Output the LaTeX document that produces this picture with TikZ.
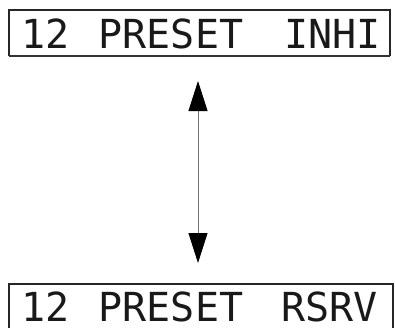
\documentclass[tikz,border=0pt]{standalone}
\usepackage{fontspec}
\newfontfamily\lcd{DejaVu Sans Mono}
\usetikzlibrary{arrows.meta}
\tikzset{
  lcdtext/.style={anchor=base west, inner sep=0pt, text depth=0pt, font=\lcd\fontsize{40}{40}\selectfont, text=black!90},
  frame/.style={draw=black!85, line width=1.3pt},
  shadowline/.style={draw=black!80, line width=2pt},
  link/.style={draw=black!55, line width=0.9pt,
    {Triangle[length=30pt,width=19pt,color=black]}-{Triangle[length=30pt,width=19pt,color=black]}}
}
\begin{document}
\begin{tikzpicture}[x=1pt,y=-1pt]
\useasboundingbox (0,0) rectangle (395,327);
% top display
\draw[frame] (9,10) rectangle (390,55.5);
\draw[shadowline] (9,56) -- (390,56);
\node[lcdtext] (t1) at (21,48.5) {12};
\node[lcdtext] (t2) at (98.5,48.5) {PRESET};
\node[lcdtext] (t3) at (284,48.5) {INHI};
% bottom display
\draw[frame] (9,330) -- (9,284) -- (393,284) -- (393,330);
\node[lcdtext] (b1) at (21,321.5) {12};
\node[lcdtext] (b2) at (98.5,321.5) {PRESET};
\node[lcdtext] (b3) at (281.5,321.5) {RSRV};
% arrow
\coordinate (up) at (198,81);
\coordinate (down) at (198,263);
\draw[link] (up) -- (down);
\end{tikzpicture}
\end{document}
